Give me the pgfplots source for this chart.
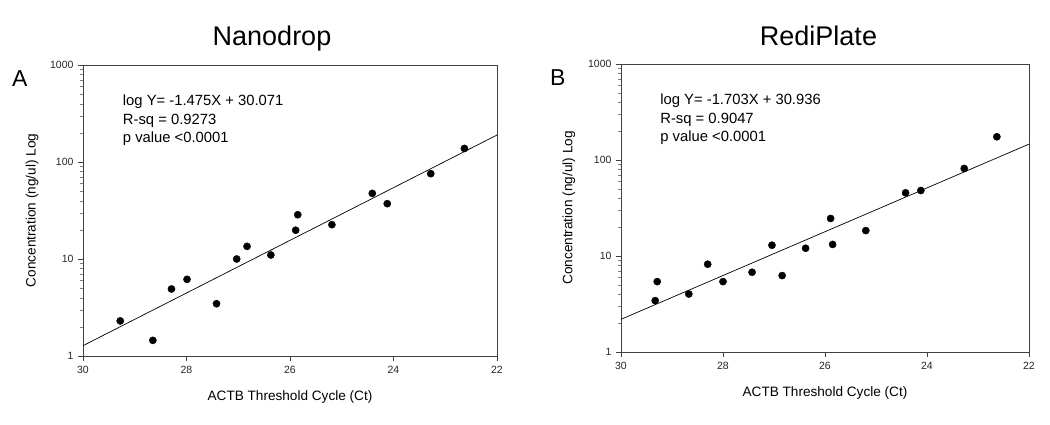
\documentclass[border=0pt]{standalone}
\usepackage{pgfplots}
\pgfplotsset{compat=1.18}
\usepackage{fontspec}
\setmainfont{Liberation Sans}
\begin{document}
\begin{tikzpicture}
\useasboundingbox (0pt,0pt) rectangle (1050pt,424pt);
% Panel A
\begin{axis}[at={(83pt,68pt)}, anchor=south west, width=414pt, height=291pt,
    scale only axis,
    ymode=log,
    xmin=22, xmax=30, x dir=reverse,
    ymin=1, ymax=1000,
    xtick={22,24,26,28,30},
    xticklabels={22,24,26,28,30},
    ytick={1,10,100,1000},
    yticklabels={1,10,100,1000},
    minor tick num=0,
    tick align=outside,
    xtick pos=left, ytick pos=left,
    major tick length=5pt,
    axis line style={black!75, line width=0.8pt},
    major tick style={black!75, line width=0.8pt},
    tick label style={font=\fontsize{10.5}{12}\selectfont, text=black!85},
    xticklabel style={yshift=-2pt},
    yticklabel style={xshift=-1pt},
    label style={font=\fontsize{13.6}{15}\selectfont},
    xlabel={ACTB Threshold Cycle (Ct)},
    ylabel={Concentration (ng/ul) Log},
    xlabel style={at={(axis description cs:0.5,-0.141)}, anchor=center},
    ylabel style={at={(axis description cs:-0.123,0.5)}, anchor=center},
    clip=false]
\addplot[only marks, mark=*, mark size=3.6pt, black] coordinates {
(29.28,2.30) (28.65,1.45) (28.29,4.91) (27.99,6.17) (27.42,3.46)
(27.03,10.0) (26.83,13.5) (26.37,11.0) (25.89,19.8) (25.85,28.6)
(25.19,22.6) (24.41,47.5) (24.12,37.2) (23.28,75.8) (22.63,138)
};
\addplot[black, line width=0.7pt, mark=none] coordinates {(30,1.278) (22,189.8)};
\node[anchor=north west, inner sep=0pt, align=left, font=\fontsize{14.8}{18.3}\selectfont]
  at (axis description cs:0.096,0.897) {log Y= -1.475X + 30.071\\R-sq = 0.9273\\p value <0.0001};
\end{axis}
% Panel B
\begin{axis}[at={(621pt,72pt)}, anchor=south west, width=408pt, height=288pt,
    scale only axis,
    ymode=log,
    xmin=22, xmax=30, x dir=reverse,
    ymin=1, ymax=1000,
    xtick={22,24,26,28,30},
    xticklabels={22,24,26,28,30},
    ytick={1,10,100,1000},
    yticklabels={1,10,100,1000},
    minor tick num=0,
    tick align=outside,
    xtick pos=left, ytick pos=left,
    major tick length=5pt,
    axis line style={black!75, line width=0.8pt},
    major tick style={black!75, line width=0.8pt},
    tick label style={font=\fontsize{10.5}{12}\selectfont, text=black!85},
    xticklabel style={yshift=-2pt},
    yticklabel style={xshift=-1pt},
    label style={font=\fontsize{13.6}{15}\selectfont},
    xlabel={ACTB Threshold Cycle (Ct)},
    ylabel={Concentration (ng/ul) Log},
    xlabel style={at={(axis description cs:0.5,-0.143)}, anchor=center},
    ylabel style={at={(axis description cs:-0.128,0.5)}, anchor=center},
    clip=false]
\addplot[only marks, mark=*, mark size=3.6pt, black] coordinates {
(29.33,3.43) (29.29,5.41) (28.67,4.02) (28.30,8.21) (28.00,5.41)
(27.43,6.77) (27.04,12.95) (26.84,6.25) (26.38,12.05) (25.89,24.6)
(25.85,13.2) (25.20,18.4) (24.42,45.5) (24.12,48.1) (23.27,81.6) (22.63,174.6)
};
\addplot[black, line width=0.7pt, mark=none] coordinates {(30,2.19) (22,146.4)};
\node[anchor=north west, inner sep=0pt, align=left, font=\fontsize{14.8}{18.3}\selectfont]
  at (axis description cs:0.096,0.896) {log Y= -1.703X + 30.936\\R-sq = 0.9047\\p value <0.0001};
\end{axis}
% Titles and panel letters
\node[anchor=base, font=\fontsize{27}{30}\selectfont] at (272pt,378.3pt) {Nanodrop};
\node[anchor=base, font=\fontsize{27}{30}\selectfont] at (818.5pt,378.3pt) {RediPlate};
\node[anchor=base west, inner sep=0pt, font=\fontsize{23}{26}\selectfont] at (12pt,337pt) {A};
\node[anchor=base west, inner sep=0pt, font=\fontsize{23}{26}\selectfont] at (550pt,338pt) {B};
\end{tikzpicture}
\end{document}
